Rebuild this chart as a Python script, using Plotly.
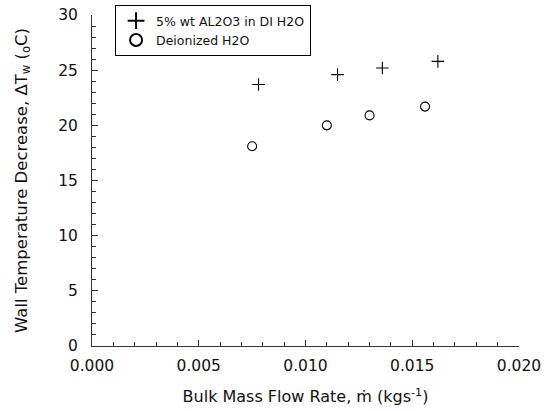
import plotly.graph_objects as go

# Data
nano_x = [0.0078, 0.0115, 0.0136, 0.0162]
nano_y = [23.7, 24.6, 25.2, 25.8]
di_x = [0.0075, 0.0110, 0.0130, 0.0156]
di_y = [18.1, 20.0, 20.9, 21.7]

x_ticks = [0.0, 0.005, 0.010, 0.015, 0.020]
x_tick_labels = ["0.000", "0.005", "0.010", "0.015", "0.020"]
y_ticks = [0, 5, 10, 15, 20, 25, 30]

FONT = "DejaVu Sans"

fig = go.Figure()
fig.add_trace(go.Scatter(
    x=nano_x, y=nano_y, mode="markers", name="5% wt AL2O3 in DI H2O",
    marker=dict(symbol="cross-thin", size=9, color="black",
                line=dict(color="black", width=1.1)),
))
fig.add_trace(go.Scatter(
    x=di_x, y=di_y, mode="markers", name="Deionized H2O",
    marker=dict(symbol="circle-open", size=9, color="black",
                line=dict(color="black", width=1.1)),
))

axis_common = dict(
    showgrid=False, zeroline=False, showline=True, linecolor="#333",
    linewidth=1, ticks="inside", tickcolor="#333", ticklen=6,
    tickfont=dict(family=FONT, size=15.5, color="#111"),
    minor=dict(ticks="inside", ticklen=4, tickcolor="#333"),
)

fig.update_xaxes(
    range=[0, 0.02], tickvals=x_ticks, ticktext=x_tick_labels,
    minor_dtick=0.001,
    title=dict(text="Bulk Mass Flow Rate, ṁ (kgs<sup>-1</sup>)",
               font=dict(family=FONT, size=16, color="#111"), standoff=17),
    ticklabelstandoff=5,
    **axis_common,
)
fig.update_yaxes(
    range=[0, 30], tickvals=y_ticks, minor_dtick=1,
    title=dict(text="Wall Temperature Decrease, ΔT<sub>w</sub> (<sub>o</sub>C)",
               font=dict(family=FONT, size=16.5, color="#111"), standoff=26),
    ticklabelstandoff=10,
    **axis_common,
)

fig.update_layout(
    width=544, height=411,
    margin=dict(l=92, r=25, t=15, b=65, autoexpand=False),
    plot_bgcolor="white", paper_bgcolor="white",
    font=dict(family=FONT, size=14, color="#111"),
    legend=dict(
        x=0.054, y=1.030, xanchor="left", yanchor="top",
        bordercolor="black", borderwidth=1, bgcolor="white",
        font=dict(family=FONT, size=12.5, color="#111"),
        tracegroupgap=0, itemsizing="constant", itemwidth=30,
    ),
)

fig.write_html("out.html", config={"displayModeBar": False},
               post_script="document.body.style.margin='0';")
